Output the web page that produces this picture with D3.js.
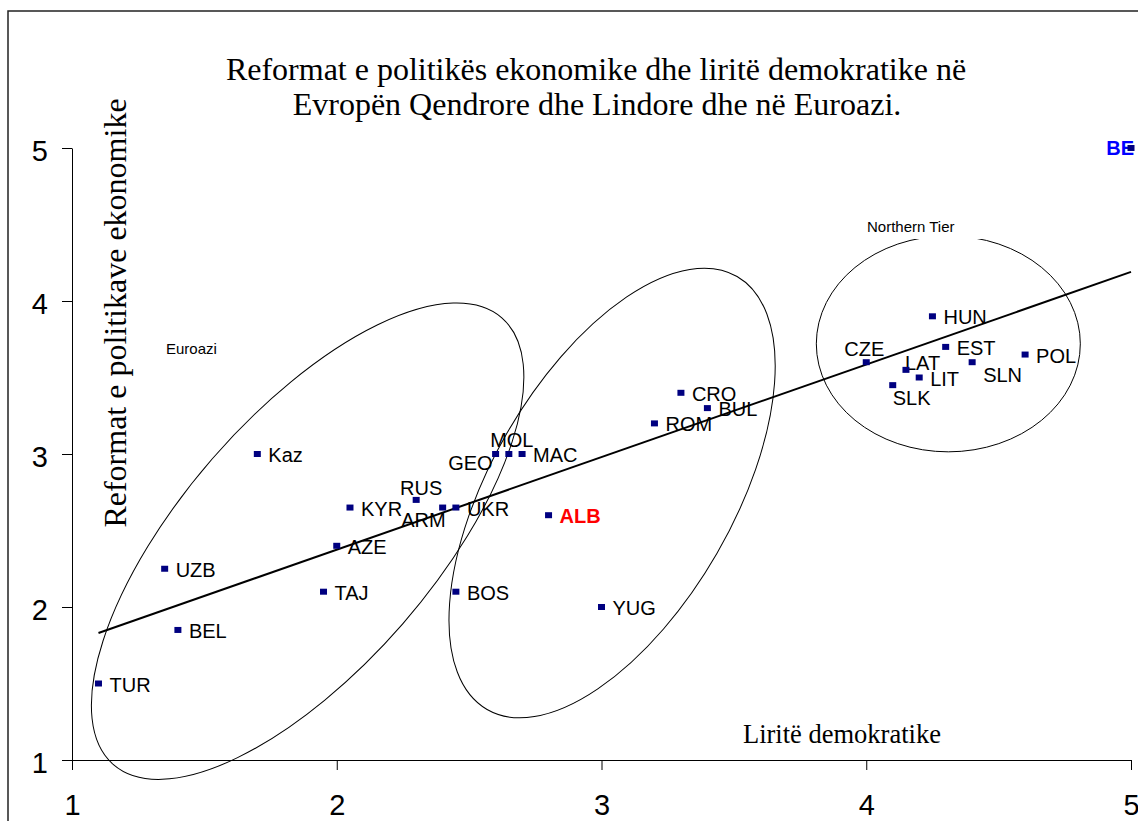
<!DOCTYPE html>
<html>
<head>
<meta charset="utf-8">
<script src="https://cdn.jsdelivr.net/npm/d3@7"></script>
<style>
  body { margin: 0; background: #fff; }
  svg { display: block; }
</style>
</head>
<body>
<div id="chart"><svg></svg></div>
<script>
// country codes, democratic freedoms (x) and economic reform (y)
var countries = ["TUR", "BEL", "UZB", "TAJ", "AZE", "KYR", "Kaz", "RUS", "ARM", "UKR",
                 "GEO", "MOL", "MAC", "BOS", "ALB", "YUG", "ROM", "CRO", "BUL",
                 "CZE", "HUN", "EST", "LAT", "LIT", "SLK", "SLN", "POL", "BE"];
var freedoms = [1.10, 1.40, 1.35, 1.95, 2.00, 2.05, 1.70, 2.30, 2.40, 2.45,
                2.60, 2.65, 2.70, 2.45, 2.80, 3.00, 3.20, 3.30, 3.40,
                4.00, 4.25, 4.30, 4.15, 4.20, 4.10, 4.40, 4.60, 5.00];
var reforms  = [1.50, 1.85, 2.25, 2.10, 2.40, 2.65, 3.00, 2.70, 2.65, 2.65,
                3.00, 3.00, 3.00, 2.10, 2.60, 2.00, 3.20, 3.40, 3.30,
                3.60, 3.90, 3.70, 3.55, 3.50, 3.45, 3.60, 3.65, 5.00];
var ticks = [1, 2, 3, 4, 5];
// trend line end points
var trendX = [1.10, 5.00];
var trendY = [1.83, 4.19];

var data = countries.map(function (c, i) {
    return {name: c, x: freedoms[i], y: reforms[i]};
});

// label placement (defaults to the right of the marker)
var labelPos = {
    MOL: {anchor: "middle", dx: 3, dy: -7},
    RUS: {anchor: "middle", dx: 5, dy: -5},
    CZE: {anchor: "middle", dx: -2, dy: -6},
    GEO: {anchor: "end", dx: -3, dy: 16},
    ARM: {anchor: "end", dx: 3, dy: 19},
    LAT: {anchor: "start", dx: -1, dy: 0},
    SLK: {anchor: "start", dx: 0, dy: 20},
    SLN: {anchor: "start", dx: 11, dy: 20},
    BE:  {anchor: "end", dx: 3, dy: 7}
};

var W = 1138, H = 821;
var margin = {top: 148, left: 72},
    width = 1131 - 72,
    height = 760 - 148;

var svg = d3.select("svg")
    .attr("width", W)
    .attr("height", H);

// outer frame
svg.append("rect")
    .attr("x", 8).attr("y", 11)
    .attr("width", 1150).attr("height", 830)
    .attr("fill", "none")
    .attr("stroke", "#222")
    .attr("stroke-width", 1.5);

var g = svg.append("g")
    .attr("transform", "translate(" + margin.left + "," + margin.top + ")");

var x = d3.scaleLinear().domain([1, 5]).range([0, width]);
var y = d3.scaleLinear().domain([1, 5]).range([height, 0]);

// axes
var xAxis = g.append("g")
    .attr("transform", "translate(0," + height + ")")
    .call(d3.axisBottom(x).tickValues(ticks).tickFormat(d3.format("d"))
        .tickSize(10).tickSizeOuter(0).tickPadding(24));
var yAxis = g.append("g")
    .call(d3.axisLeft(y).tickValues(ticks).tickFormat(d3.format("d"))
        .tickSize(10).tickSizeOuter(0).tickPadding(14));

[xAxis, yAxis].forEach(function (a) {
    a.selectAll("text")
        .style("font-family", "Arial, 'Liberation Sans', sans-serif")
        .style("font-size", "29px")
        .attr("fill", "#000");
    a.selectAll("line, path").attr("stroke", "#000").attr("stroke-width", 1);
});
yAxis.selectAll("text").attr("dy", "0.42em");

// group ellipses: centre in data units, semi-axes in pixels, tilt in degrees
var ellipses = [
    {cx: 1.89, cy: 2.43, a: 296, b: 126, tilt: 49},
    {cx: 3.04, cy: 2.745, a: 250, b: 121, tilt: 60},
    {cx: 4.31, cy: 3.72, a: 132, b: 108, tilt: 0}
];
g.selectAll(".group")
    .data(ellipses)
    .enter().append("ellipse")
    .attr("class", "group")
    .attr("rx", function (d) { return d.a; })
    .attr("ry", function (d) { return d.b; })
    .attr("transform", function (d) {
        return "translate(" + x(d.cx) + "," + y(d.cy) + ") rotate(" + (-d.tilt) + ")";
    })
    .attr("fill", "none")
    .attr("stroke", "#000")
    .attr("stroke-width", 1);

// "Northern Tier" note sits on a white box that cuts the ellipse
svg.append("rect")
    .attr("x", 893).attr("y", 205)
    .attr("width", 110).attr("height", 34)
    .attr("fill", "#fff");
svg.append("text")
    .attr("x", 867).attr("y", 232)
    .style("font-family", "Arial, 'Liberation Sans', sans-serif")
    .style("font-size", "15px")
    .text("Northern Tier");
svg.append("text")
    .attr("x", 166).attr("y", 354)
    .style("font-family", "Arial, 'Liberation Sans', sans-serif")
    .style("font-size", "15px")
    .text("Euroazi");

// trend line
g.append("line")
    .attr("x1", x(trendX[0])).attr("y1", y(trendY[0]))
    .attr("x2", x(trendX[1])).attr("y2", y(trendY[1]))
    .attr("stroke", "#000")
    .attr("stroke-width", 2);

// labels
g.selectAll(".lbl")
    .data(data)
    .enter().append("text")
    .attr("class", "lbl")
    .attr("x", function (d) { return x(d.x) + (labelPos[d.name] ? labelPos[d.name].dx : 11); })
    .attr("y", function (d) { return y(d.y) + (labelPos[d.name] ? labelPos[d.name].dy : 8); })
    .attr("text-anchor", function (d) { return labelPos[d.name] ? labelPos[d.name].anchor : "start"; })
    .style("font-family", "Arial, 'Liberation Sans', sans-serif")
    .style("font-size", "20px")
    .style("font-weight", function (d) { return (d.name == "ALB" || d.name == "BE") ? "bold" : "normal"; })
    .attr("fill", function (d) {
        if (d.name == "ALB") return "#ff0000";
        if (d.name == "BE") return "#0000ff";
        return "#000";
    })
    .text(function (d) { return d.name; });

// markers
g.selectAll(".dot")
    .data(data)
    .enter().append("rect")
    .attr("class", "dot")
    .attr("x", function (d) { return x(d.x) - 3.5; })
    .attr("y", function (d) { return y(d.y) - 3; })
    .attr("width", 7)
    .attr("height", 6)
    .attr("fill", "#000080");

// titles
var title = svg.append("text")
    .attr("text-anchor", "middle")
    .style("font-family", "'Times New Roman', 'Liberation Serif', serif")
    .style("font-size", "32px");
title.append("tspan").attr("x", 596).attr("y", 80)
    .text("Reformat e politikës ekonomike dhe liritë demokratike në");
title.append("tspan").attr("x", 597).attr("y", 115)
    .text("Evropën Qendrore dhe Lindore dhe në Euroazi.");

svg.append("text")
    .attr("transform", "translate(126,313) rotate(-90)")
    .attr("text-anchor", "middle")
    .style("font-family", "'Times New Roman', 'Liberation Serif', serif")
    .style("font-size", "32px")
    .text("Reformat e politikave ekonomike");

svg.append("text")
    .attr("x", 743).attr("y", 743)
    .style("font-family", "'Times New Roman', 'Liberation Serif', serif")
    .style("font-size", "26.5px")
    .text("Liritë demokratike");
</script>
</body>
</html>
